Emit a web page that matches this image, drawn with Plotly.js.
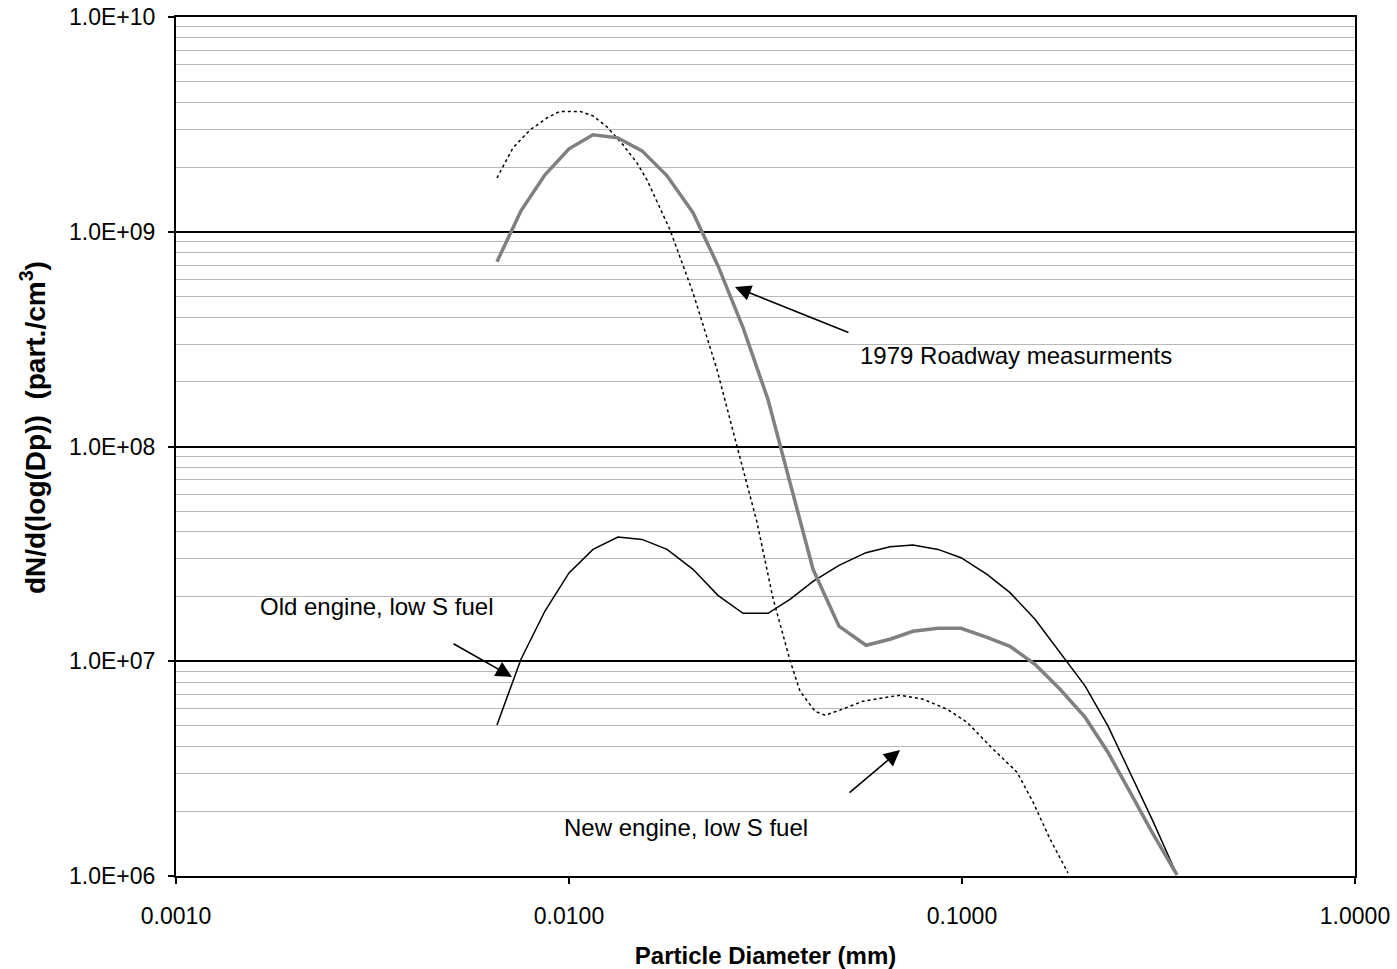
<!DOCTYPE html>
<html>
<head>
<meta charset="utf-8">
<script src="https://cdn.plot.ly/plotly-3.0.1.min.js"></script>
<style>html,body{margin:0;padding:0;background:#fff;}#chart{width:1397px;height:969px;}</style>
</head>
<body>
<div id="chart"></div>
<script>
// Particle diameters (shared by roadway and old engine series)
const diameters = [0.006557, 0.007547, 0.008687, 0.0100, 0.01151, 0.01332, 0.01534, 0.01776, 0.02068, 0.02393,
  0.02772, 0.03209, 0.03650, 0.04178, 0.04864, 0.05697, 0.06560, 0.07503, 0.08687, 0.09942,
  0.1158, 0.1325, 0.1534, 0.1776, 0.2056, 0.2351, 0.2677, 0.3044, 0.3524];

const roadway1979 = [7.25e8, 1.252e9, 1.841e9, 2.432e9, 2.826e9, 2.736e9, 2.381e9, 1.822e9, 1.226e9, 6.95e8,
  3.58e8, 1.654e8, 6.80e7, 2.68e7, 1.456e7, 1.187e7, 1.266e7, 1.379e7, 1.424e7, 1.424e7,
  1.293e7, 1.174e7, 9.68e6, 7.41e6, 5.49e6, 3.77e6, 2.46e6, 1.602e6, 1.011e6];

const oldEngine = [5.05e6, 1.022e7, 1.714e7, 2.579e7, 3.318e7, 3.786e7, 3.693e7, 3.318e7, 2.68e7, 2.028e7,
  1.672e7, 1.672e7, 1.943e7, 2.356e7, 2.796e7, 3.204e7, 3.416e7, 3.475e7, 3.318e7, 3.036e7,
  2.539e7, 2.087e7, 1.568e7, 1.101e7, 7.68e6, 5.00e6, 3.045e6, 1.841e6, 1.011e6];

// New engine series has its own diameters
const newDiameters = [0.006557, 0.007203, 0.007960, 0.008790, 0.009486, 0.010666, 0.01151, 0.01249, 0.01372, 0.01489,
  0.01579, 0.01704, 0.01807, 0.02068, 0.02380, 0.02677, 0.03009, 0.03305, 0.03650, 0.03871,
  0.04227, 0.04481, 0.04893, 0.05598, 0.06954, 0.07958, 0.09157, 0.1030, 0.1199, 0.1380,
  0.1516, 0.1675, 0.1861];
const newEngine = [1.78e9, 2.459e9, 2.982e9, 3.390e9, 3.635e9, 3.635e9, 3.463e9, 3.079e9, 2.539e9, 2.094e9,
  1.745e9, 1.293e9, 1.022e9, 5.20e8, 2.281e8, 1.0e8, 4.43e7, 1.963e7, 1.011e7, 7.25e6,
  5.85e6, 5.61e6, 5.92e6, 6.52e6, 6.95e6, 6.66e6, 5.98e6, 5.20e6, 3.90e6, 3.045e6,
  2.21e6, 1.486e6, 1.033e6];

const xTickVals = [0.001, 0.01, 0.1, 1];
const xTickText = ["0.0010", "0.0100", "0.1000", "1.0000"];
const yTickVals = [1e6, 1e7, 1e8, 1e9, 1e10];
const yTickText = ["1.0E+06", "1.0E+07", "1.0E+08", "1.0E+09", "1.0E+10"];

const labels = {
  roadway: "1979 Roadway measurments",
  oldEng: "Old engine, low S fuel",
  newEng: "New engine, low S fuel"
};
const xTitle = "Particle Diameter (mm)";
const yTitle = "dN/d(log(Dp))  (part./cm<sup>3</sup>)";

const FONT = "Liberation Sans, Arial, sans-serif";

const traces = [
  {x: newDiameters, y: newEngine, mode: 'lines', name: labels.newEng,
   line: {color: '#000000', width: 1.5, dash: 'dot'}},
  {x: diameters, y: oldEngine, mode: 'lines', name: labels.oldEng,
   line: {color: '#000000', width: 1.5}},
  {x: diameters, y: roadway1979, mode: 'lines', name: labels.roadway,
   line: {color: '#808080', width: 3.5}}
];

const arrowStyle = {showarrow: true, arrowhead: 2, arrowsize: 2, arrowwidth: 1.6, arrowcolor: '#000', text: ''};
const textStyle = {showarrow: false, font: {family: FONT, size: 24, color: '#000'}, xanchor: 'left', yanchor: 'middle'};

const layout = {
  width: 1397, height: 969,
  margin: {l: 176, r: 42, t: 17, b: 93},
  paper_bgcolor: '#fff', plot_bgcolor: '#fff',
  showlegend: false,
  font: {family: FONT, size: 23, color: '#000'},
  xaxis: {
    type: 'log', range: [-3, 0],
    tickvals: xTickVals, ticktext: xTickText,
    ticks: 'outside', ticklen: 6, tickwidth: 2, tickcolor: '#000',
    ticklabelstandoff: 12,
    showgrid: false, zeroline: false,
    showline: true, linecolor: '#000', linewidth: 2, mirror: true,
    tickfont: {family: FONT, size: 23},
    title: {text: '<b>' + xTitle + '</b>', font: {family: FONT, size: 24}, standoff: 20}
  },
  yaxis: {
    type: 'log', range: [6, 10],
    tickvals: yTickVals, ticktext: yTickText,
    ticks: 'outside', ticklen: 6, tickwidth: 2, tickcolor: '#000',
    ticklabelstandoff: 8,
    showgrid: true, gridcolor: '#000', gridwidth: 2,
    minor: {dtick: 'D1', showgrid: true, gridcolor: '#b8b8b8', gridwidth: 1, ticks: ''},
    zeroline: false,
    showline: true, linecolor: '#000', linewidth: 2, mirror: true,
    tickfont: {family: FONT, size: 23}
  },
  annotations: [
    Object.assign({}, arrowStyle, {xref: 'paper', yref: 'paper', x: 0.4741, y: 0.6857, ax: 115, ay: 46}),
    Object.assign({}, arrowStyle, {xref: 'paper', yref: 'paper', x: 0.2850, y: 0.2317, ax: -60, ay: -34}),
    Object.assign({}, arrowStyle, {xref: 'paper', yref: 'paper', x: 0.6141, y: 0.1467, ax: -52, ay: 44}),
    Object.assign({}, textStyle, {xref: 'paper', yref: 'paper', x: 0.5785, y: 0.6065, text: labels.roadway}),
    Object.assign({}, textStyle, {xref: 'paper', yref: 'paper', x: 0.0696, y: 0.3132, text: labels.oldEng}),
    Object.assign({}, textStyle, {xref: 'paper', yref: 'paper', x: 0.3274, y: 0.0559, text: labels.newEng}),
    {xref: 'paper', yref: 'paper', x: -0.1213, y: 0.5227, xanchor: 'center', yanchor: 'middle',
     textangle: -90, showarrow: false, text: '<b>' + yTitle + '</b>',
     font: {family: FONT, size: 28, color: '#000'}}
  ]
};

Plotly.newPlot('chart', traces, layout, {displayModeBar: false, staticPlot: true});
</script>
</body>
</html>
